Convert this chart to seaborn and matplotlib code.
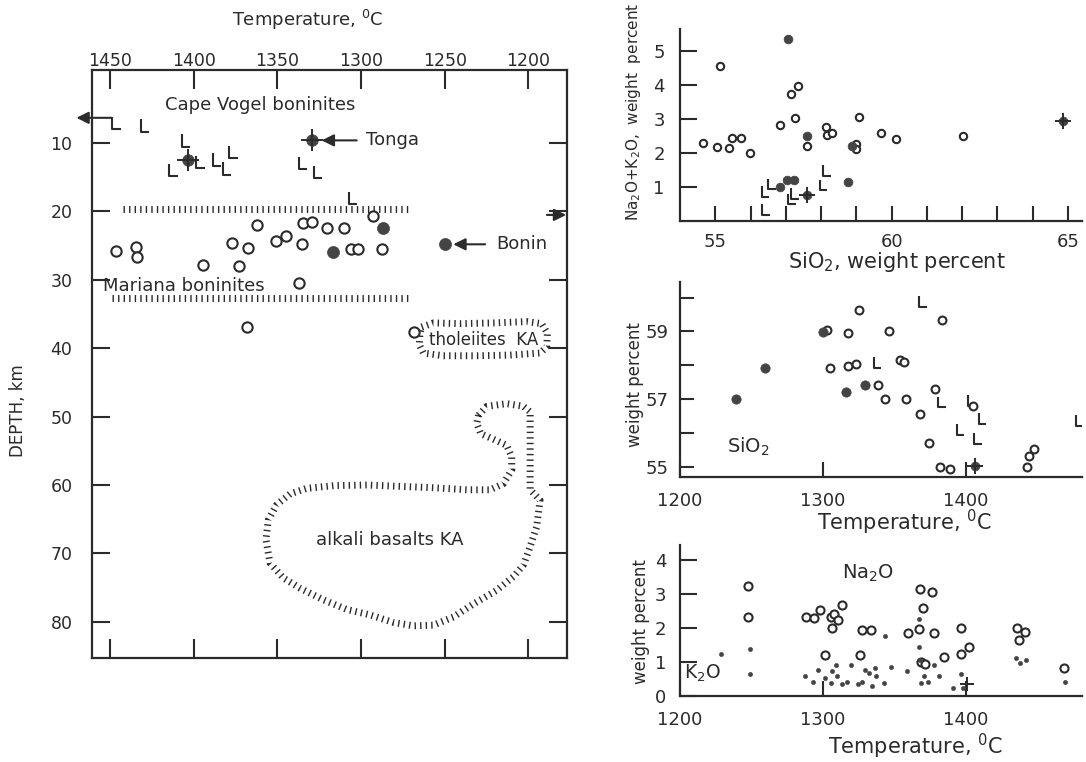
import matplotlib
matplotlib.use("Agg")
import matplotlib.pyplot as plt
from matplotlib.path import Path
import seaborn as sns

# ---------------------------------------------------------------
# left panel : depth (km) vs temperature (C)
# ---------------------------------------------------------------
# Cape Vogel boninites (L symbols)
cv_temp = [1446, 1429, 1404.5, 1412, 1396, 1386, 1380, 1376, 1334.6, 1325.7, 1304.8]
cv_depth = [7.1, 7.4, 9.6, 13.9, 12.8, 12.4, 13.7, 11.3, 12.9, 14.2, 18.0]
# Mariana boninites (open circles)
mar_temp = [1446.4, 1434.4, 1433.8, 1394.4, 1372.9, 1377.1, 1367.5, 1362.1, 1350.8,
            1344.8, 1335.3, 1334.6, 1329.3, 1320.3, 1310.2, 1306.0, 1301.8, 1292.8,
            1287.5, 1337.0, 1368.1, 1268.3]
mar_depth = [25.8, 25.2, 26.7, 27.8, 28.0, 24.6, 25.4, 22.0, 24.3,
             23.6, 24.8, 21.7, 21.5, 22.4, 22.4, 25.5, 25.5, 20.7,
             25.5, 30.5, 36.9, 37.6]
# filled circles
mar_f_temp = [1316.7, 1286.9, 1249.8]
mar_f_depth = [25.9, 22.4, 24.8]
# filled circles with error cross (Cape Vogel, Tonga)
crs_temp = [1403.4, 1329.3]
crs_depth = [12.5, 9.6]

# hatched boundaries of the Mariana field
band_top_temp = [1442, 1271]
band_top_depth = [19.6, 19.6]
band_bot_temp = [1449, 1271]
band_bot_depth = [32.7, 32.7]

# tholeiites KA field
thol_temp = [1263.8, 1256.8, 1240.9, 1221.0, 1201.0, 1192.1, 1188.7, 1189.1, 1193.1,
             1211.0, 1230.9, 1250.8, 1262.8, 1265.2, 1264.8, 1263.8]
thol_depth = [36.9, 36.3, 36.4, 36.3, 36.1, 36.4, 37.8, 39.8, 40.7,
              41.0, 41.1, 41.1, 40.7, 39.5, 37.8, 36.9]

# alkali basalts KA field
alk_temp = [1229.9, 1224.9, 1213.0, 1203.0, 1199.0, 1199.0, 1193.1, 1195.1, 1199.0,
            1203.0, 1209.0, 1219.0, 1232.9, 1244.8, 1256.8, 1268.7, 1280.7, 1294.6,
            1308.6, 1322.5, 1336.4, 1346.4, 1354.4, 1356.8, 1355.4, 1350.4, 1342.4,
            1332.5, 1316.5, 1296.6, 1276.7, 1256.8, 1236.9, 1222.9, 1215.0, 1210.0,
            1210.0, 1213.0, 1221.0, 1228.5, 1230.9, 1229.9]
alk_depth = [49.8, 48.5, 48.1, 48.5, 49.3, 60.7, 62.2, 66.1, 69.0,
             71.7, 73.4, 75.4, 77.4, 79.3, 80.5, 80.6, 80.1, 79.0,
             78.2, 76.8, 75.1, 73.6, 71.4, 68.0, 65.1, 62.9, 61.3,
             60.5, 60.1, 60.0, 60.2, 60.4, 60.7, 60.7, 59.8, 57.8,
             55.9, 54.2, 53.3, 52.5, 51.0, 49.8]

# ---------------------------------------------------------------
# top right : Na2O+K2O vs SiO2
# ---------------------------------------------------------------
a_o_sio2 = [54.64, 55.05, 55.38, 55.47, 55.74, 55.97, 55.14, 56.84, 57.25, 57.15, 57.34,
            57.61, 58.13, 58.16, 58.30, 58.99, 58.99, 59.08, 59.70, 60.12, 62.01]
a_o_alk = [2.29, 2.19, 2.14, 2.44, 2.44, 2.00, 4.57, 2.83, 3.02, 3.73, 3.97,
           2.21, 2.76, 2.53, 2.58, 2.26, 2.11, 3.07, 2.58, 2.41, 2.50]
a_f_sio2 = [57.06, 57.60, 58.87, 56.84, 57.03, 57.22, 58.77]
a_f_alk = [5.35, 2.50, 2.21, 1.02, 1.21, 1.21, 1.16]
a_c_sio2 = [57.60, 64.86]
a_c_alk = [0.77, 2.95]
a_l_sio2 = [56.42, 56.60, 56.44, 57.17, 57.26, 58.07, 58.16]
a_l_alk = [0.87, 1.10, 0.35, 0.66, 0.82, 1.07, 1.49]

# ---------------------------------------------------------------
# middle right : SiO2 vs temperature
# ---------------------------------------------------------------
b_o_temp = [1325.4, 1383.6, 1303.0, 1317.8, 1346.5, 1304.9, 1317.8, 1323.0, 1354.2, 1356.6,
            1338.3, 1343.4, 1358.2, 1378.2, 1368.1, 1405.1, 1374.6, 1381.7, 1388.7,
            1443.2, 1444.6, 1447.9]
b_o_sio2 = [59.64, 59.34, 59.04, 58.95, 59.00, 57.91, 57.98, 58.03, 58.14, 58.08,
            57.42, 57.00, 56.99, 57.30, 56.56, 56.80, 55.71, 54.98, 54.92,
            54.98, 55.32, 55.51]
b_f_temp = [1239.2, 1259.6, 1300.0, 1316.4, 1329.6]
b_f_sio2 = [56.99, 57.91, 58.99, 57.22, 57.41]
b_c_temp = [1406.3]
b_c_sio2 = [55.03]
b_l_temp = [1370.0, 1338.3, 1383.3, 1404.5, 1411.8, 1396.3, 1408.7, 1479.8]
b_l_sio2 = [59.88, 58.08, 56.91, 56.95, 56.43, 56.09, 55.84, 56.36]

# ---------------------------------------------------------------
# bottom right : Na2O (open) and K2O (dots) vs temperature
# ---------------------------------------------------------------
na_temp = [1228.7, 1247.9, 1247.9, 1288.2, 1293.7, 1297.7, 1306.5, 1305.4, 1307.7, 1310.8,
           1313.2, 1327.7, 1333.6, 1301.4, 1326.1, 1359.4, 1367.1, 1368.3, 1376.3, 1370.0,
           1377.5, 1368.8, 1371.8, 1384.5, 1397.0, 1397.0, 1402.1, 1436.1, 1441.5, 1437.3,
           1469.0]
na_wt = [4.66, 3.24, 2.32, 2.32, 2.28, 2.54, 2.01, 2.32, 2.40, 2.23,
         2.67, 1.95, 1.95, 1.22, 1.22, 1.86, 1.96, 3.16, 3.06, 2.59,
         1.86, 1.00, 0.93, 1.15, 2.01, 1.23, 1.44, 2.01, 1.88, 1.66,
         0.81]
k_temp = [1228.7, 1249.1, 1249.1, 1287.3, 1293.2, 1296.7, 1301.2, 1305.4, 1306.5, 1309.4,
          1310.1, 1313.6, 1317.1, 1319.5, 1324.9, 1327.3, 1329.6, 1332.4, 1336.6, 1337.5,
          1334.7, 1343.0, 1343.7, 1347.7, 1358.7, 1367.6, 1367.6, 1368.1, 1371.1, 1368.8,
          1373.5, 1377.7, 1381.2, 1391.1, 1397.0, 1398.1, 1435.2, 1438.0, 1442.0, 1469.2]
k_wt = [1.23, 1.37, 0.66, 0.58, 0.41, 0.76, 0.54, 0.38, 0.74, 0.90,
        0.58, 0.34, 0.41, 0.90, 0.34, 0.41, 0.76, 0.69, 0.81, 0.58,
        0.29, 0.38, 1.76, 0.85, 0.74, 2.25, 1.44, 1.05, 0.58, 0.38,
        0.41, 0.90, 0.58, 0.25, 0.66, 0.25, 1.13, 0.97, 1.07, 0.41]
k_c_temp = [1401.0]
k_c_wt = [0.34]

# ---------------------------------------------------------------
sns.set_style("ticks", {"xtick.direction": "in", "ytick.direction": "in"})
plt.rcParams["font.family"] = ["DejaVu Sans"]
plt.rcParams["mathtext.fontset"] = "dejavusans"
INK = "#2b2b2b"
plt.rcParams["text.color"] = INK
plt.rcParams["xtick.color"] = INK
plt.rcParams["ytick.color"] = INK
plt.rcParams["axes.edgecolor"] = INK

L_MARK = Path([(-0.35, 0.5), (-0.35, -0.5), (0.35, -0.5)],
              [Path.MOVETO, Path.LINETO, Path.LINETO])
HATCH = dict(color=INK, lw=5, linestyle=(0, (0.2, 0.6)), dash_capstyle="butt")
DEG = r"Temperature, $^0$C"


def open_pts(ax, x, y, s):
    sns.scatterplot(x=x, y=y, ax=ax, s=s, marker="o", facecolor="white",
                    edgecolor=INK, linewidth=1.5, zorder=4, legend=False)


def full_pts(ax, x, y, s):
    sns.scatterplot(x=x, y=y, ax=ax, s=s, marker="o", color="#444444",
                    edgecolor="#444444", linewidth=0.5, zorder=5, legend=False)


def cross_pts(ax, x, y, s):
    full_pts(ax, x, y, s)
    sns.scatterplot(x=x, y=y, ax=ax, s=s * 3.5, marker="+", color=INK,
                    linewidth=1.4, zorder=6, legend=False)


def l_pts(ax, x, y, s):
    sns.scatterplot(x=x, y=y, ax=ax, s=s, marker=L_MARK, facecolor="none",
                    edgecolor=INK, linewidth=1.5, zorder=4, legend=False)


fig = plt.figure(figsize=(10.86, 7.62), dpi=100)
axL = fig.add_axes([0.0847, 0.1365, 0.4374, 0.7717])
axA = fig.add_axes([0.6262, 0.7094, 0.3702, 0.2521])
axB = fig.add_axes([0.6262, 0.3744, 0.3702, 0.2559])
axC = fig.add_axes([0.6262, 0.0866, 0.3702, 0.1982])

# ---------------- left panel
ax = axL
ax.plot(band_top_temp, band_top_depth, **HATCH)
ax.plot(band_bot_temp, band_bot_depth, **HATCH)
ax.plot(thol_temp, thol_depth, **HATCH)
ax.plot(alk_temp, alk_depth, **HATCH)
l_pts(ax, cv_temp, cv_depth, 80)
open_pts(ax, mar_temp, mar_depth, 55)
full_pts(ax, mar_f_temp, mar_f_depth, 75)
cross_pts(ax, crs_temp, crs_depth, 70)

arrow = dict(arrowstyle="-|>", color=INK, lw=1.5, mutation_scale=18, shrinkA=0, shrinkB=0)
ax.annotate("", xy=(1470, 6.3), xytext=(1449, 6.3), arrowprops=arrow, annotation_clip=False)
ax.annotate("", xy=(1323.5, 9.6), xytext=(1302.6, 9.6), arrowprops=arrow)
ax.annotate("", xy=(1244.9, 24.8), xytext=(1225.9, 24.8), arrowprops=arrow)
ax.annotate("", xy=(1177.5, 20.5), xytext=(1189, 20.5), arrowprops=arrow, annotation_clip=False)

ax.text(1417, 4.4, "Cape Vogel boninites", fontsize=13, va="center", ha="left")
ax.text(1297, 9.6, "Tonga", fontsize=13, va="center", ha="left")
ax.text(1219, 24.8, "Bonin", fontsize=13, va="center", ha="left")
ax.text(1454, 30.9, "Mariana boninites", fontsize=13, va="center", ha="left")
ax.text(1226.5, 38.8, "tholeiites  KA", fontsize=12, va="center", ha="center")
ax.text(1282.7, 68.1, "alkali basalts KA", fontsize=13, va="center", ha="center")

ax.set_xlim(1460.7, 1177)
ax.set_ylim(85.3, -0.7)
ax.set_xticks([1450, 1400, 1350, 1300, 1250, 1200])
ax.set_yticks([10, 20, 30, 40, 50, 60, 70, 80])
ax.tick_params(axis="x", top=True, bottom=True, labeltop=True, labelbottom=False,
               length=14, width=1.5, pad=0, labelsize=12.5)
ax.tick_params(axis="y", left=True, right=True, length=13, width=1.5, pad=14, labelsize=12.5)
for sp in ax.spines.values():
    sp.set_linewidth(1.6)
ax.text(0.453, 1.085, DEG, transform=ax.transAxes, fontsize=13, ha="center", va="center")
ax.text(-0.156, 0.42, "DEPTH, km", transform=ax.transAxes, fontsize=12,
        rotation=90, ha="center", va="center")

# ---------------- top right
ax = axA
l_pts(ax, a_l_sio2, a_l_alk, 60)
open_pts(ax, a_o_sio2, a_o_alk, 28)
full_pts(ax, a_f_sio2, a_f_alk, 40)
cross_pts(ax, a_c_sio2, a_c_alk, 40)
ax.set_xlim(54.0, 65.4)
ax.set_ylim(0, 5.63)
ax.set_xticks(range(55, 66))
ax.set_xticklabels(["55", "", "", "", "", "60", "", "", "", "", "65"])
ax.set_yticks([1, 2, 3, 4, 5])
ax.tick_params(axis="x", length=11, width=1.5, pad=8, labelsize=13)
ax.tick_params(axis="y", length=12, width=1.5, pad=11, labelsize=13)

# ---------------- middle right
ax = axB
l_pts(ax, b_l_temp, b_l_sio2, 60)
open_pts(ax, b_o_temp, b_o_sio2, 32)
full_pts(ax, b_f_temp, b_f_sio2, 45)
cross_pts(ax, b_c_temp, b_c_sio2, 40)
ax.text(1248, 55.58, r"SiO$_2$", fontsize=14, ha="center", va="center")
ax.set_xlim(1200, 1481.5)
ax.set_ylim(54.70, 60.47)
ax.set_xticks([1200, 1300, 1400])
ax.set_yticks([55, 56, 57, 58, 59, 60])
ax.set_yticklabels(["55", "", "57", "", "59", ""])
ax.tick_params(axis="x", length=11, width=1.5, pad=11, labelsize=13)
ax.tick_params(axis="y", length=10, width=1.5, pad=8, labelsize=13)

# ---------------- bottom right
ax = axC
open_pts(ax, na_temp, na_wt, 34)
sns.scatterplot(x=k_temp, y=k_wt, ax=ax, s=10, marker="o", color="#444444",
                edgecolor="#444444", linewidth=0.3, zorder=5, legend=False)
sns.scatterplot(x=k_c_temp, y=k_c_wt, ax=ax, s=110, marker="+", color=INK,
                linewidth=1.4, zorder=6, legend=False)
ax.text(1332, 3.62, r"Na$_2$O", fontsize=14, ha="center", va="center")
ax.text(1203, 0.66, r"K$_2$O", fontsize=13.5, ha="left", va="center")
ax.set_xlim(1200, 1481.5)
ax.set_ylim(0, 4.44)
ax.set_xticks([1200, 1300, 1400])
ax.set_yticks([0, 1, 2, 3, 4])
ax.tick_params(axis="x", length=11, width=1.5, pad=11, labelsize=13)
ax.tick_params(axis="y", length=12, width=1.5, pad=10, labelsize=13)

for ax in (axA, axB, axC):
    sns.despine(ax=ax)
    ax.spines["left"].set_linewidth(1.6)
    ax.spines["bottom"].set_linewidth(1.6)

fig.text(0.583, 0.853, r"Na$_2$O+K$_2$O,  weight  percent", fontsize=11, rotation=90,
         ha="center", va="center")
fig.text(0.826, 0.656, r"SiO$_2$, weight percent", fontsize=15, ha="center", va="center")
fig.text(0.585, 0.495, "weight percent", fontsize=12, rotation=90, ha="center", va="center")
fig.text(0.833, 0.314, DEG, fontsize=15, ha="center", va="center")
fig.text(0.590, 0.184, "weight percent", fontsize=12, rotation=90, ha="center", va="center")
fig.text(0.843, 0.020, DEG, fontsize=15, ha="center", va="center")

fig.savefig("out.png", dpi=100)
